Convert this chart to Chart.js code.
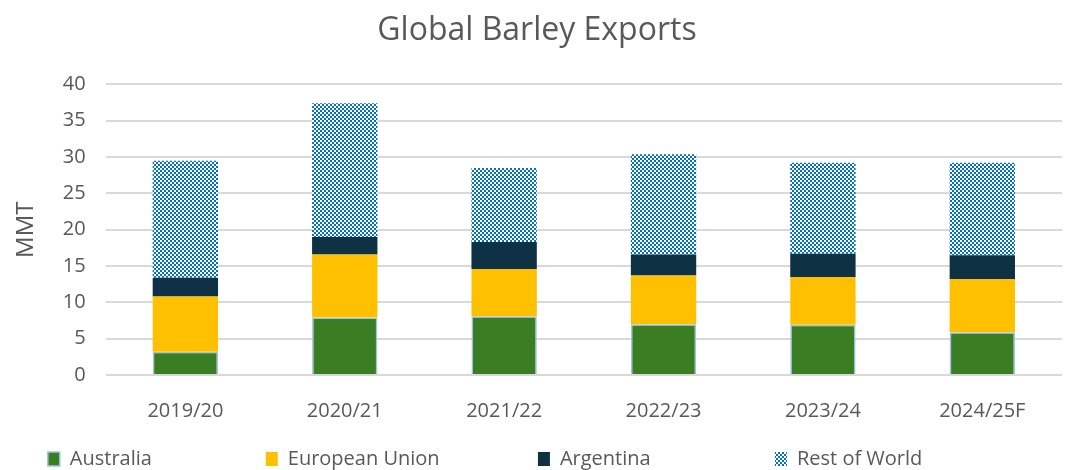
<!DOCTYPE html>
<html>
<head>
<meta charset="utf-8">
<title>Global Barley Exports</title>
<script src="https://cdn.jsdelivr.net/npm/chart.js@4/dist/chart.umd.min.js"></script>
<style>
  html, body { margin: 0; padding: 0; background: #fff; }
  #wrap { width: 1069px; height: 470px; }
</style>
</head>
<body>
<div id="wrap"><canvas id="barleyChart" width="1069" height="470"></canvas></div>
<script>
const years = ["2019/20", "2020/21", "2021/22", "2022/23", "2023/24", "2024/25F"];
const australia = [3.2, 7.9, 8.1, 7.0, 6.9, 5.9];
const europeanUnion = [7.6, 8.7, 6.5, 6.7, 6.6, 7.3];
const argentina = [2.6, 2.4, 3.7, 2.9, 3.2, 3.3];
const restOfWorld = [16.1, 18.4, 10.2, 13.8, 12.5, 12.7];
const yTicks = [0, 5, 10, 15, 20, 25, 30, 35, 40];

document.addEventListener("DOMContentLoaded", function () {
  // small blue checkerboard, like the Excel pattern fill
  function makeChecker() {
    const tile = document.createElement("canvas");
    tile.width = 4;
    tile.height = 4;
    const t = tile.getContext("2d");
    t.fillStyle = "#0070C0";
    t.fillRect(0, 0, 4, 4);
    t.fillStyle = "#ffffff";
    t.fillRect(0, 0, 2, 2);
    t.fillRect(2, 2, 2, 2);
    return t.createPattern(tile, "repeat");
  }

  const textColor = "#595959";
  const fontFamily = "'Open Sans', 'Noto Sans', sans-serif";
  const legendFontSize = 20;
  const legendPadding = 10;
  // room each legend entry takes (box + text + gap), Excel spaces them unevenly
  const legendSlots = [220, 277, 241, 262];

  // pad legend text with spaces so the entries sit where Excel put them
  function spacedLabels(chart) {
    const items = Chart.defaults.plugins.legend.labels.generateLabels(chart);
    const c = chart.ctx;
    c.save();
    c.font = legendFontSize + "px " + fontFamily;
    items.forEach((item, i) => {
      const target = legendSlots[i] - 12 - legendFontSize / 2 - legendPadding;
      let text = item.text;
      while (c.measureText(text + "\u00A0").width <= target) {
        text += "\u00A0";
      }
      item.text = text;
    });
    c.restore();
    return items;
  }

  const ctx = document.getElementById("barleyChart").getContext("2d");
  window.barleyChart = new Chart(ctx, {
    type: "bar",
    data: {
      labels: years,
      datasets: [
        {
          label: "Australia",
          data: australia,
          backgroundColor: "#3B7D23",
          borderColor: "#9DC3E6",
          borderWidth: 1.5,
        },
        {
          label: "European Union",
          data: europeanUnion,
          backgroundColor: "#FFC000",
          borderWidth: 0,
        },
        {
          label: "Argentina",
          data: argentina,
          backgroundColor: "#0E3243",
          borderWidth: 0,
        },
        {
          label: "Rest of World",
          data: restOfWorld,
          backgroundColor: makeChecker(),
          borderWidth: 0,
        },
      ],
    },
    options: {
      responsive: false,
      animation: false,
      datasets: {
        bar: {
          categoryPercentage: 1.0,
          barPercentage: 0.41,
        },
      },
      layout: {
        padding: { left: 12, right: 7, top: 10, bottom: -9 },
      },
      plugins: {
        title: {
          display: true,
          text: "Global Barley Exports",
          color: textColor,
          font: { family: fontFamily, size: 32, weight: "normal" },
          padding: { top: 2, bottom: 34 },
        },
        legend: {
          display: true,
          position: "bottom",
          labels: {
            color: textColor,
            font: { family: fontFamily, size: legendFontSize },
            boxWidth: 12,
            boxHeight: 14,
            padding: legendPadding,
            generateLabels: spacedLabels,
          },
        },
        tooltip: { enabled: false },
      },
      scales: {
        x: {
          stacked: true,
          grid: { display: false },
          border: { display: false },
          ticks: {
            color: textColor,
            font: { family: fontFamily, size: 20 },
            padding: 16,
          },
        },
        y: {
          stacked: true,
          min: 0,
          max: 40,
          afterBuildTicks: function (axis) {
            axis.ticks = yTicks.map((v) => ({ value: v }));
          },
          grid: {
            color: "#D9D9D9",
            lineWidth: 2,
            drawTicks: false,
          },
          border: { display: false },
          ticks: {
            color: textColor,
            font: { family: fontFamily, size: 20 },
            padding: 20,
          },
          title: {
            display: true,
            text: "MMT",
            color: textColor,
            font: { family: fontFamily, size: 24 },
            padding: { top: 0, bottom: 2 },
          },
        },
      },
    },
  });
});
</script>
</body>
</html>
